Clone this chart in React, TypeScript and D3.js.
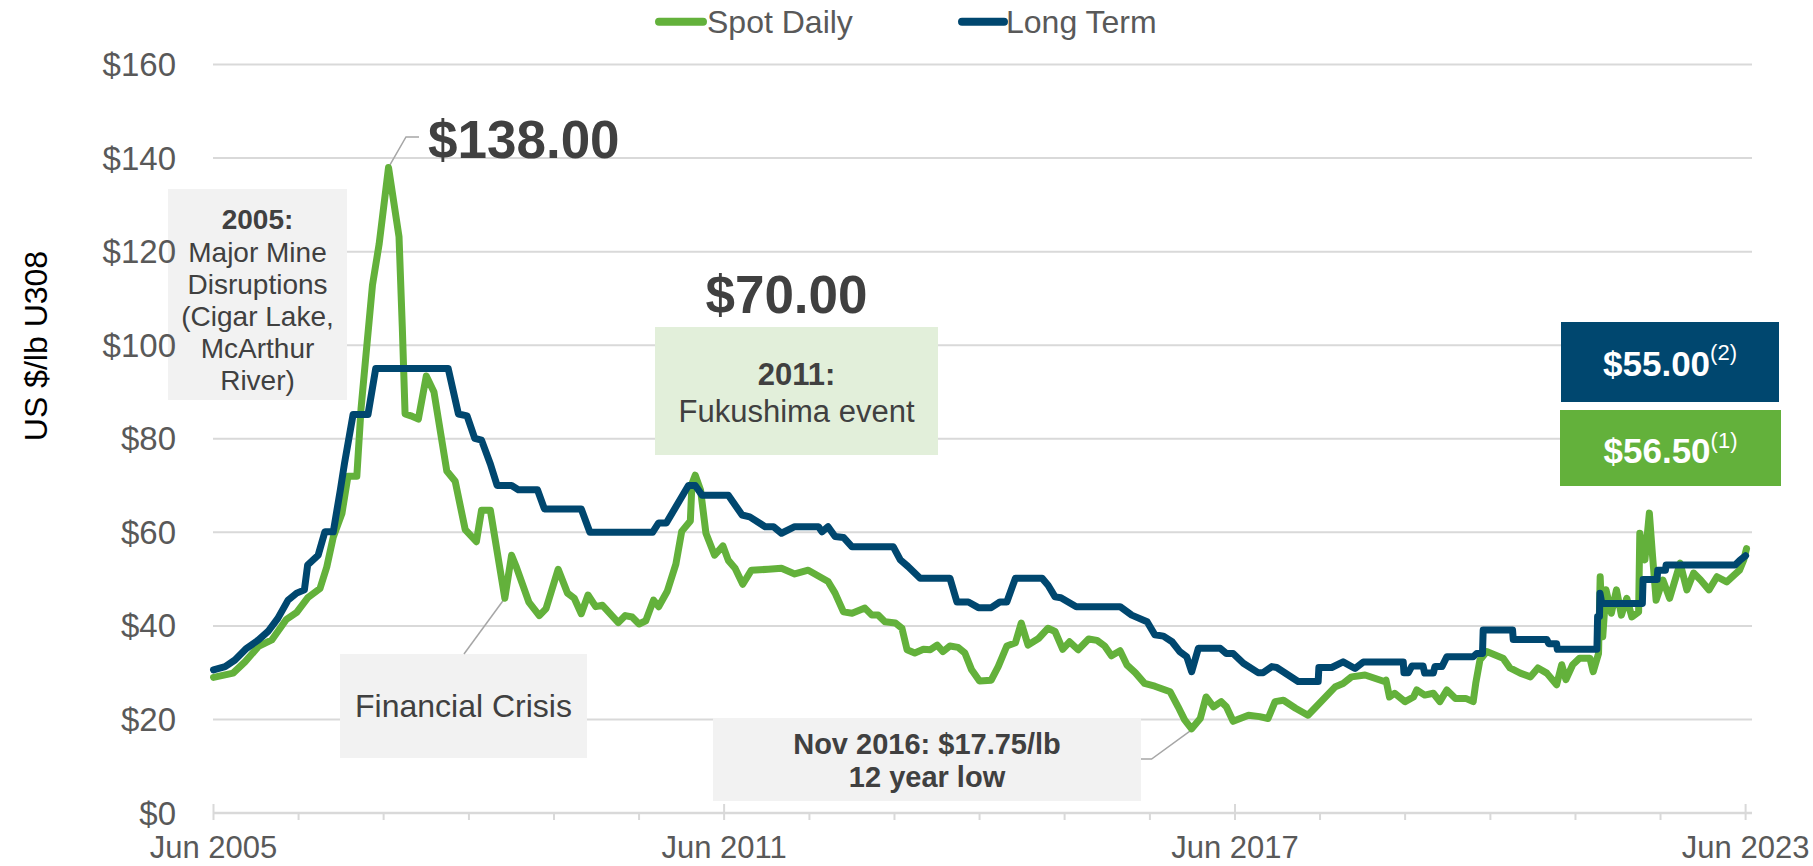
import React from 'react';
import * as d3 from 'd3';

// Spot daily price (US $/lb U3O8)
const spotDaily: [string, number][] = [
  ['2005-06-01', 29.0], ['2005-08-24', 29.9], ['2005-10-14', 32.3], ['2005-12-11', 35.6],
  ['2006-02-06', 37.0], ['2006-04-10', 41.4], ['2006-05-24', 42.9], ['2006-07-10', 46.0],
  ['2006-09-01', 48.0], ['2006-09-30', 52.6], ['2006-10-28', 59.0], ['2006-12-04', 64.0],
  ['2006-12-30', 72.0], ['2007-02-06', 72.0], ['2007-02-24', 86.4], ['2007-03-15', 96.7],
  ['2007-04-14', 112.8], ['2007-05-13', 121.7], ['2007-06-22', 138.0], ['2007-08-06', 123.2],
  ['2007-08-20', 104.0], ['2007-09-01', 85.3], ['2007-09-26', 84.9], ['2007-10-28', 84.2],
  ['2007-12-01', 93.4], ['2008-01-03', 90.0], ['2008-02-27', 73.1], ['2008-04-03', 70.9],
  ['2008-05-16', 60.6], ['2008-07-03', 58.0], ['2008-07-25', 64.7], ['2008-09-01', 64.7],
  ['2008-11-02', 45.9], ['2008-12-01', 55.1], ['2008-12-22', 52.5], ['2009-02-13', 45.1],
  ['2009-03-30', 42.2], ['2009-04-28', 43.7], ['2009-06-19', 52.1], ['2009-07-29', 47.0],
  ['2009-08-27', 45.9], ['2009-09-26', 42.6], ['2009-10-25', 46.6], ['2009-11-27', 44.1],
  ['2009-12-26', 44.4], ['2010-03-04', 40.7], ['2010-04-03', 42.2], ['2010-05-02', 41.9],
  ['2010-06-01', 40.4], ['2010-06-30', 41.1], ['2010-08-02', 45.5], ['2010-08-24', 44.1],
  ['2010-09-30', 47.4], ['2010-11-06', 53.2], ['2010-12-01', 60.2], ['2011-01-07', 62.4],
  ['2011-01-14', 70.4], ['2011-01-28', 72.2], ['2011-02-20', 69.0], ['2011-03-15', 59.8],
  ['2011-04-21', 55.1], ['2011-05-27', 57.1], ['2011-06-19', 54.0], ['2011-07-18', 52.3],
  ['2011-08-20', 48.9], ['2011-09-26', 51.9], ['2011-12-08', 52.1], ['2012-02-02', 52.3],
  ['2012-03-30', 51.1], ['2012-05-27', 51.9], ['2012-08-20', 49.5], ['2012-09-19', 47.0],
  ['2012-10-25', 43.0], ['2012-12-01', 42.7], ['2013-01-25', 43.8], ['2013-02-24', 42.3],
  ['2013-03-23', 42.3], ['2013-04-21', 40.9], ['2013-06-05', 40.6], ['2013-07-03', 39.5],
  ['2013-07-25', 34.9], ['2013-08-27', 34.2], ['2013-10-03', 35.0], ['2013-11-02', 34.9],
  ['2013-12-01', 35.9], ['2013-12-26', 34.5], ['2014-01-25', 35.7], ['2014-03-01', 35.4],
  ['2014-03-30', 34.2], ['2014-04-28', 30.6], ['2014-06-01', 28.2], ['2014-07-21', 28.4],
  ['2014-08-20', 31.3], ['2014-09-26', 35.7], ['2014-11-02', 36.4], ['2014-11-27', 40.6],
  ['2014-12-26', 35.9], ['2015-02-09', 37.3], ['2015-03-22', 39.5], ['2015-04-21', 38.8],
  ['2015-05-24', 35.0], ['2015-06-22', 36.6], ['2015-07-29', 34.9], ['2015-09-12', 37.2],
  ['2015-10-18', 36.9], ['2015-11-20', 35.7], ['2015-12-19', 33.6], ['2016-01-25', 34.7],
  ['2016-02-24', 31.6], ['2016-03-30', 30.0], ['2016-05-09', 27.7], ['2016-06-22', 27.1],
  ['2016-08-27', 25.9], ['2016-09-30', 22.7], ['2016-10-28', 19.9], ['2016-11-27', 18.0],
  ['2017-01-03', 20.2], ['2017-01-28', 24.8], ['2017-03-01', 22.7], ['2017-04-03', 23.8],
  ['2017-04-25', 22.7], ['2017-05-24', 19.6], ['2017-07-29', 20.9], ['2017-09-15', 20.6],
  ['2017-10-21', 20.2], ['2017-11-20', 23.8], ['2017-12-26', 24.1], ['2018-02-16', 22.4],
  ['2018-04-10', 20.9], ['2018-05-09', 22.4], ['2018-08-06', 27.0], ['2018-09-08', 27.7],
  ['2018-10-14', 29.1], ['2018-12-11', 29.5], ['2019-03-04', 28.1], ['2019-03-11', 28.4],
  ['2019-03-26', 24.8], ['2019-04-17', 25.6], ['2019-06-01', 23.8], ['2019-07-07', 24.8],
  ['2019-07-21', 26.3], ['2019-08-24', 25.2], ['2019-09-30', 25.6], ['2019-10-28', 23.8],
  ['2019-11-27', 26.3], ['2020-01-03', 24.5], ['2020-02-16', 24.5], ['2020-03-19', 23.8],
  ['2020-03-30', 27.7], ['2020-04-17', 32.7], ['2020-05-16', 34.5], ['2020-07-25', 33.1],
  ['2020-08-24', 31.0], ['2020-10-07', 29.9], ['2020-11-20', 29.1], ['2020-12-22', 31.0],
  ['2021-01-29', 29.9], ['2021-03-12', 27.4], ['2021-04-03', 31.7], ['2021-04-21', 28.5],
  ['2021-05-20', 31.7], ['2021-06-19', 33.1], ['2021-08-02', 33.1], ['2021-08-16', 30.2],
  ['2021-09-08', 34.1], ['2021-09-15', 50.5], ['2021-09-26', 37.7], ['2021-10-10', 47.7],
  ['2021-11-02', 42.7], ['2021-11-24', 47.7], ['2021-12-15', 42.3], ['2022-01-07', 45.9],
  ['2022-01-29', 41.9], ['2022-02-27', 43.0], ['2022-03-04', 59.8], ['2022-03-26', 54.1],
  ['2022-04-14', 64.1], ['2022-04-28', 54.8], ['2022-05-13', 45.5], ['2022-06-11', 49.8],
  ['2022-07-10', 45.9], ['2022-08-24', 53.4], ['2022-09-22', 47.7], ['2022-10-21', 51.3],
  ['2022-11-20', 49.8], ['2022-12-26', 47.7], ['2023-01-29', 50.5], ['2023-03-12', 49.4],
  ['2023-05-06', 51.9], ['2023-05-24', 54.1], ['2023-06-05', 56.5],
];

// Long term price, stepped
const longTerm: [string, number][] = [
  ['2005-06-01', 30.6], ['2005-07-21', 31.3], ['2005-09-01', 32.7], ['2005-10-21', 35.2],
  ['2005-12-11', 37.0], ['2006-01-21', 38.8], ['2006-03-04', 41.6], ['2006-04-17', 45.5],
  ['2006-05-24', 47.0], ['2006-06-26', 47.7], ['2006-07-10', 53.0], ['2006-08-24', 55.1],
  ['2006-09-22', 60.1], ['2006-10-28', 60.1], ['2006-11-27', 69.0], ['2006-12-15', 74.7],
  ['2007-01-21', 85.2], ['2007-03-26', 85.2], ['2007-04-28', 95.0], ['2008-03-04', 95.0],
  ['2008-04-17', 85.3], ['2008-05-24', 84.9], ['2008-06-26', 80.1], ['2008-07-25', 79.7],
  ['2008-09-01', 74.6], ['2008-09-30', 70.0], ['2008-12-01', 70.0], ['2008-12-30', 69.1],
  ['2009-03-22', 69.1], ['2009-04-21', 65.0], ['2009-09-26', 65.0], ['2009-11-02', 60.0],
  ['2010-07-29', 60.0], ['2010-08-24', 62.0], ['2010-09-26', 62.0], ['2010-12-30', 70.0],
  ['2011-01-28', 70.0], ['2011-02-27', 67.9], ['2011-06-19', 67.9], ['2011-08-17', 63.7],
  ['2011-09-19', 63.3], ['2011-11-24', 61.2], ['2011-12-30', 61.2], ['2012-02-02', 59.8],
  ['2012-03-30', 61.2], ['2012-07-10', 61.2], ['2012-07-25', 60.1], ['2012-08-20', 61.2],
  ['2012-09-19', 59.1], ['2012-10-25', 58.9], ['2012-12-01', 56.9], ['2013-05-27', 56.9],
  ['2013-06-26', 54.1], ['2013-07-29', 52.7], ['2013-09-19', 50.2], ['2014-01-25', 50.2],
  ['2014-02-24', 45.1], ['2014-04-14', 45.1], ['2014-05-27', 43.9], ['2014-07-21', 43.9],
  ['2014-08-27', 45.1], ['2014-09-26', 45.1], ['2014-11-02', 50.2], ['2015-02-24', 50.2],
  ['2015-03-22', 48.7], ['2015-04-21', 46.2], ['2015-05-16', 46.0], ['2015-07-21', 44.1],
  ['2016-01-25', 44.1], ['2016-03-15', 42.3], ['2016-05-20', 40.9], ['2016-06-22', 38.1],
  ['2016-07-29', 37.8], ['2016-09-04', 36.6], ['2016-10-07', 34.5], ['2016-11-06', 33.4],
  ['2016-11-27', 30.2], ['2016-12-26', 35.2], ['2017-03-30', 35.2], ['2017-04-25', 34.1],
  ['2017-05-24', 34.1], ['2017-07-07', 32.0], ['2017-09-08', 30.0], ['2017-09-30', 30.0],
  ['2017-11-06', 31.3], ['2017-11-27', 31.1], ['2018-02-27', 28.1], ['2018-05-24', 28.1],
  ['2018-05-27', 31.1], ['2018-07-21', 31.1], ['2018-09-08', 32.3], ['2018-10-29', 30.9],
  ['2018-12-04', 32.3], ['2019-05-24', 32.3], ['2019-05-27', 30.0], ['2019-06-15', 30.0],
  ['2019-06-30', 31.4], ['2019-08-17', 31.4], ['2019-08-24', 29.9], ['2019-09-30', 29.9],
  ['2019-10-07', 31.3], ['2019-11-06', 31.3], ['2019-11-27', 33.4], ['2020-03-19', 33.4],
  ['2020-04-03', 34.1], ['2020-04-28', 34.1], ['2020-05-01', 39.1], ['2020-09-04', 39.1],
  ['2020-09-07', 37.1], ['2021-01-29', 37.1], ['2021-02-06', 36.2], ['2021-03-12', 36.2],
  ['2021-03-15', 35.0], ['2021-09-01', 35.0], ['2021-09-04', 42.0], ['2021-09-12', 42.0],
  ['2021-09-14', 47.0], ['2021-09-22', 44.8], ['2022-03-15', 44.8], ['2022-03-18', 49.9],
  ['2022-05-17', 49.9], ['2022-05-20', 51.9], ['2022-06-22', 51.9], ['2022-06-25', 53.0],
  ['2023-04-17', 53.0], ['2023-05-09', 54.1], ['2023-06-01', 55.0],
];

const yTicks = [0, 20, 40, 60, 80, 100, 120, 140, 160];
const tickYears = d3.range(2005, 2024);
const labelYears = [2005, 2011, 2017, 2023];

const GREEN = '#63b13b';
const BLUE = '#00476f';
const GRID = '#d9d9d9';
const TEXT = '#404040';
const AXIS_TEXT = '#595959';
const LEADER = '#a6a6a6';
const FONT = '"Liberation Sans", Arial, Helvetica, sans-serif';

const parse = d3.timeParse('%Y-%m-%d');

export default function App() {
  const width = 1813;
  const height = 866;

  const x = d3.scaleTime()
    .domain([new Date(2005, 5, 1), new Date(2023, 5, 1)])
    .range([213.5, 1745.6]);
  const y = d3.scaleLinear().domain([0, 160]).range([813, 64.5]);

  const line = d3.line<[string, number]>()
    .x(d => x(parse(d[0]) as Date))
    .y(d => y(d[1]));

  const pt = (d: string, v: number) => [x(parse(d) as Date), y(v)];
  const peak = pt('2007-06-22', 138);
  const crisis = pt('2008-11-02', 45.9);
  const low = pt('2016-11-27', 17.75);

  return (
    <div style={{ position: 'fixed', left: 0, top: 0 }}>
      <svg width={width} height={height} style={{ display: 'block', background: '#fff' }} fontFamily={FONT}>
        {/* gridlines */}
        {yTicks.filter(t => t > 0).map(t => (
          <line key={t} x1={213} x2={1752} y1={y(t)} y2={y(t)} stroke={GRID} strokeWidth={2} />
        ))}
        {/* x axis */}
        <line x1={213} x2={1752} y1={y(0)} y2={y(0)} stroke={GRID} strokeWidth={2.5} />
        {tickYears.map(yr => {
          const xx = x(new Date(yr, 5, 1));
          const major = labelYears.includes(yr);
          return <line key={yr} x1={xx} x2={xx} y1={y(0) - (major ? 9 : 0)} y2={y(0) + 7} stroke={GRID} strokeWidth={2} />;
        })}
        {labelYears.map(yr => (
          <text key={yr} x={x(new Date(yr, 5, 1))} y={858} textAnchor="middle" fontSize={31} fill={AXIS_TEXT}>
            {`Jun ${yr}`}
          </text>
        ))}
        <text transform="translate(36,346) rotate(-90)" textAnchor="middle" dominantBaseline="central" fontSize={32} fill="#000">
          US $/lb U308
        </text>

        {/* legend */}
        <line x1={659} x2={703} y1={21.7} y2={21.7} stroke={GREEN} strokeWidth={8} strokeLinecap="round" />
        <text x={707} y={32.5} fontSize={32} fill={AXIS_TEXT}>Spot Daily</text>
        <line x1={962} x2={1004} y1={21.7} y2={21.7} stroke={BLUE} strokeWidth={8} strokeLinecap="round" />
        <text x={1006} y={32.5} fontSize={32} fill={AXIS_TEXT}>Long Term</text>

        {/* annotation boxes */}
        <rect x={168} y={189} width={179} height={211} fill="#f2f2f2" />
        <text textAnchor="middle" fontSize={28} fill={TEXT}>
          <tspan x={257.5} y={229} fontWeight="bold">2005:</tspan>
          <tspan x={257.5} y={261.5}>Major Mine</tspan>
          <tspan x={257.5} y={293.5}>Disruptions</tspan>
          <tspan x={257.5} y={325.5}>(Cigar Lake,</tspan>
          <tspan x={257.5} y={357.5}>McArthur</tspan>
          <tspan x={257.5} y={390}>River)</tspan>
        </text>

        <rect x={655} y={327} width={283} height={128} fill="#e2efda" />
        <text textAnchor="middle" fontSize={31} fill={TEXT}>
          <tspan x={796.5} y={385} fontWeight="bold">2011:</tspan>
          <tspan x={796.5} y={421.5}>Fukushima event</tspan>
        </text>

        <rect x={340} y={654} width={247} height={104} fill="#f2f2f2" />
        <text x={463.5} y={717} textAnchor="middle" fontSize={32} fill={TEXT}>Financial Crisis</text>
        <polyline points={`464,654 ${crisis[0]},${crisis[1]}`} fill="none" stroke={LEADER} strokeWidth={1.5} />

        <rect x={713} y={718} width={428} height={83} fill="#f2f2f2" />
        <text textAnchor="middle" fontSize={29} fontWeight="bold" fill={TEXT}>
          <tspan x={927} y={753.5}>Nov 2016: $17.75/lb</tspan>
          <tspan x={927} y={787}>12 year low</tspan>
        </text>
        <polyline points={`1141,759 1151.6,759 ${low[0]},${low[1]}`} fill="none" stroke={LEADER} strokeWidth={1.5} />

        {/* y axis labels (on top of boxes) */}
        {yTicks.map(t => (
          <text key={t} x={176} y={y(t) + 11.5} textAnchor="end" fontSize={33} fill={AXIS_TEXT}>
            {`$${t}`}
          </text>
        ))}

        {/* peak callouts */}
        <polyline points={`${peak[0]},${peak[1]} 406,137 419,137`} fill="none" stroke={LEADER} strokeWidth={1.5} />
        <text x={428} y={158} fontSize={53} fontWeight="bold" fill={TEXT}>$138.00</text>
        <text x={786.5} y={313} textAnchor="middle" fontSize={53} fontWeight="bold" fill={TEXT}>$70.00</text>

        {/* series */}
        <path d={line(spotDaily) ?? ''} fill="none" stroke={GREEN} strokeWidth={7} strokeLinejoin="round" strokeLinecap="round" />
        <path d={line(longTerm) ?? ''} fill="none" stroke={BLUE} strokeWidth={7} strokeLinejoin="round" strokeLinecap="round" />

        {/* current price boxes */}
        <rect x={1561} y={322} width={218} height={80} fill={BLUE} />
        <text x={1670} y={376} textAnchor="middle" fill="#fff" fontWeight="bold" fontSize={35}>
          $55.00<tspan fontSize={22} fontWeight="normal" dy={-16}>(2)</tspan>
        </text>
        <rect x={1560} y={410} width={221} height={76} fill={GREEN} />
        <text x={1670.5} y={463} textAnchor="middle" fill="#fff" fontWeight="bold" fontSize={35}>
          $56.50<tspan fontSize={22} fontWeight="normal" dy={-15}>(1)</tspan>
        </text>
      </svg>
    </div>
  );
}
